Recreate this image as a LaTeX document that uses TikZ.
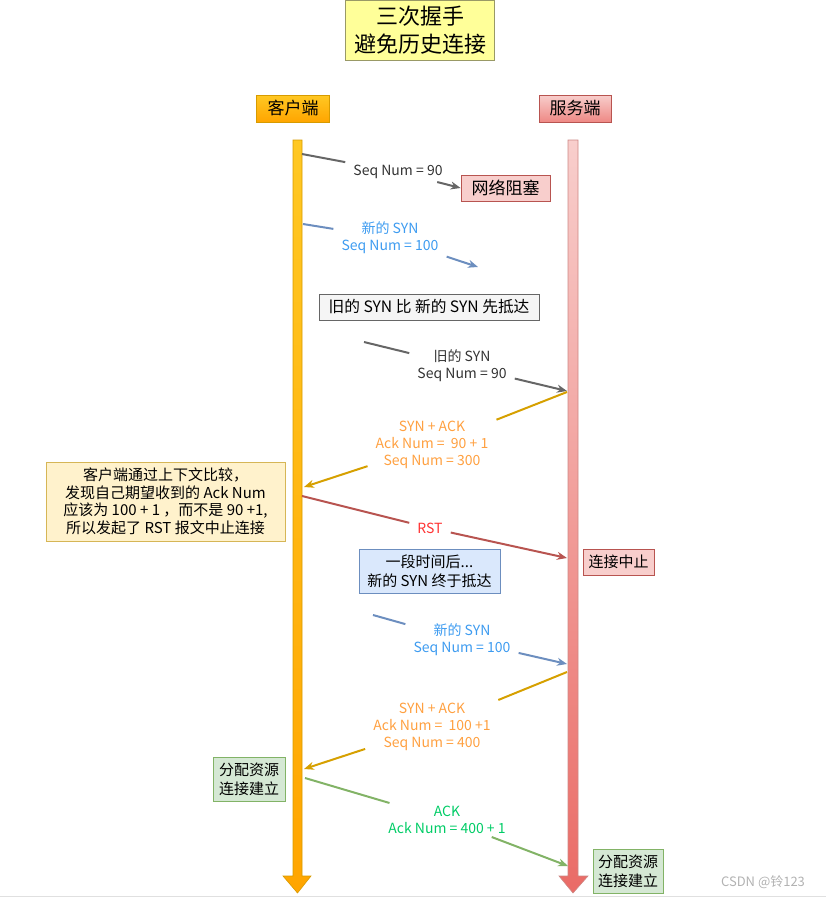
\documentclass[tikz,border=0pt]{standalone}
\usepackage{fontspec}
\setmainfont{Noto Sans CJK SC}
\usetikzlibrary{arrows.meta}
\definecolor{titlefill}{HTML}{FFFF99}
\definecolor{titledraw}{HTML}{999966}
\definecolor{cliTop}{HTML}{FFC823}
\definecolor{cliBot}{HTML}{FFA500}
\definecolor{cliDraw}{HTML}{D79B00}
\definecolor{srvTop}{HTML}{F8CECC}
\definecolor{srvBot}{HTML}{EA6B66}
\definecolor{srvDraw}{HTML}{B85450}
\definecolor{pinkfill}{HTML}{F8CECC}
\definecolor{grayfill}{HTML}{F5F5F5}
\definecolor{graydraw}{HTML}{666666}
\definecolor{notefill}{HTML}{FFF2CC}
\definecolor{notedraw}{HTML}{D6B656}
\definecolor{bluefill}{HTML}{DAE8FC}
\definecolor{bluedraw}{HTML}{6C8EBF}
\definecolor{greenfill}{HTML}{D5E8D4}
\definecolor{greendraw}{HTML}{82B366}
\definecolor{lnGray}{HTML}{666666}
\definecolor{lnBlue}{HTML}{6C8EBF}
\definecolor{lnGold}{HTML}{D6A000}
\definecolor{lnRed}{HTML}{B85450}
\definecolor{lnGreen}{HTML}{82B366}
\definecolor{txGray}{HTML}{333333}
\definecolor{txBlue}{HTML}{3D9BF0}
\definecolor{txOrange}{HTML}{FFA040}
\definecolor{txRed}{HTML}{FF3333}
\definecolor{txGreen}{HTML}{00CC66}
\begin{document}
\begin{tikzpicture}[x=1pt,y=-1pt,
  box/.style={draw, line width=0.8pt, align=center, inner sep=0pt, font=\fontsize{15}{19}\selectfont},
  lab/.style={align=center, inner xsep=8pt, inner ysep=3pt, font=\fontsize{14}{17}\selectfont},
  seg/.style={line width=2pt},
  arr/.style={line width=2pt, -{Stealth[length=10pt,width=8pt]}},
  life/.style={line width=0.6pt}
]
\useasboundingbox (0,0) rectangle (826,898);

% title
\node[box, fill=titlefill, draw=titledraw, minimum width=149pt, minimum height=60pt,
      font=\fontsize{22}{28}\selectfont] (title) at (420,30) {三次握手\\避免历史连接};

% headers
\node[box, top color=cliTop, bottom color=cliBot, draw=cliDraw, minimum width=73pt, minimum height=27pt,
      font=\fontsize{17}{20}\selectfont] (client) at (293,108.5) {客户端};
\node[box, top color=srvTop, bottom color=srvBot!80, draw=srvDraw, minimum width=72pt, minimum height=27pt,
      font=\fontsize{17}{20}\selectfont] (server) at (575,108.5) {服务端};

% lifelines
\shadedraw[life, top color=cliTop, bottom color=cliBot, draw=cliDraw]
  (293,140) -- (302,140) -- (302,876) -- (311,876) -- (297.5,893) -- (283,876) -- (293,876) -- cycle;
\shadedraw[life, top color=srvTop, bottom color=srvBot, draw=srvDraw!70]
  (568,140) -- (578,140) -- (578,876) -- (588,876) -- (573,893) -- (559,876) -- (568,876) -- cycle;

% boxes
\node[box, fill=pinkfill, draw=srvDraw, minimum width=89pt, minimum height=26pt,
      font=\fontsize{17}{20}\selectfont] (block) at (505.5,188) {网络阻塞};
\node[box, fill=grayfill, draw=graydraw, minimum width=220pt, minimum height=26pt,
      font=\fontsize{15.7}{19}\selectfont] (early) at (429,307) {旧的 SYN 比 新的 SYN 先抵达};
\node[box, fill=notefill, draw=notedraw, minimum width=239pt, minimum height=79pt,
      font=\fontsize{15}{17.5}\selectfont] (note) at (165.5,501.5)
      {客户端通过上下文比较，\\发现自己期望收到的 Ack Num\\应该为 100 + 1 ，而不是 90 +1,\\ 所以发起了 RST 报文中止连接};
\node[box, fill=pinkfill, draw=srvDraw, minimum width=71pt, minimum height=26pt] (abort) at (618.5,562) {连接中止};
\node[box, fill=bluefill, draw=bluedraw, minimum width=141pt, minimum height=44pt] (later) at (429.5,571) {一段时间后...\\新的 SYN 终于抵达};
\node[box, fill=greenfill, draw=greendraw, minimum width=72pt, minimum height=44pt] (estC) at (249,779) {分配资源\\连接建立};
\node[box, fill=greenfill, draw=greendraw, minimum width=70pt, minimum height=44pt] (estS) at (628,871) {分配资源\\连接建立};

% message endpoints
\coordinate (m1s) at (302,154);
\coordinate (m2s) at (303,224);
\coordinate (m2e) at (478,267);
\coordinate (m3s) at (364,342);
\coordinate (m3e) at (567,391);
\coordinate (m4s) at (567,392);
\coordinate (m4e) at (304,487);
\coordinate (m5s) at (302,496);
\coordinate (m5e) at (567,558);
\coordinate (m6s) at (373,615);
\coordinate (m6e) at (567,664);
\coordinate (m7s) at (567,672);
\coordinate (m7e) at (304,769);
\coordinate (m8s) at (305,778);
\coordinate (m8e) at (568,866);

% labels
\node[lab, text=txGray] (l1) at (398,172) {Seq Num = 90};
\node[lab, text=txBlue] (l2) at (390,238) {新的 SYN\\Seq Num = 100};
\node[lab, text=txGray] (l3) at (462,366) {旧的 SYN\\Seq Num = 90};
\node[lab, text=txOrange] (l4) at (432,445) {SYN + ACK\\Ack Num =~~90 + 1\\Seq Num = 300};
\node[lab, text=txRed] (l5) at (430,528) {RST};
\node[lab, text=txBlue] (l6) at (462,640) {新的 SYN\\Seq Num = 100};
\node[lab, text=txOrange] (l7) at (432,727) {SYN + ACK\\Ack Num =~~100 +1\\Seq Num = 400};
\node[lab, text=txGreen] (l8) at (447,820) {ACK\\Ack Num = 400 + 1};

% connectors
\draw[seg, lnGray] (m1s) -- (l1);   \draw[arr, lnGray] (l1) -- (block.west);
\draw[seg, lnBlue] (m2s) -- (l2);   \draw[arr, lnBlue] (l2) -- (m2e);
\draw[seg, lnGray] (m3s) -- (l3);   \draw[arr, lnGray] (l3) -- (m3e);
\draw[seg, lnGold] (m4s) -- (l4);   \draw[arr, lnGold] (l4) -- (m4e);
\draw[seg, lnRed] (m5s) -- (l5);    \draw[arr, lnRed] (l5) -- (m5e);
\draw[seg, lnBlue] (m6s) -- (l6);   \draw[arr, lnBlue] (l6) -- (m6e);
\draw[seg, lnGold] (m7s) -- (l7);   \draw[arr, lnGold] (l7) -- (m7e);
\draw[seg, lnGreen] (m8s) -- (l8);  \draw[arr, lnGreen] (l8) -- (m8e);

% watermark and bottom rule
\node[text=black!30, font=\fontsize{13}{15}\selectfont, inner sep=0pt] (wm) at (763,882) {CSDN @铃123};
\fill[black!12] (0,895.5) rectangle (826,897);
\end{tikzpicture}
\end{document}
